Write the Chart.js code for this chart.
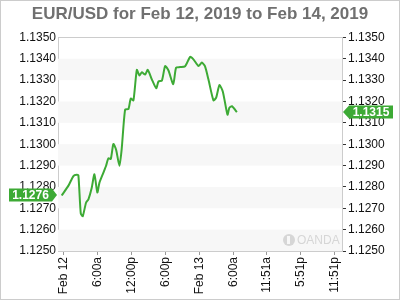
<!DOCTYPE html>
<html>
<head>
<meta charset="utf-8">
<script src="https://cdn.jsdelivr.net/npm/chart.js@4"></script>
<style>
    html, body { margin: 0; padding: 0; background: #fff; }
    #wrap { position: relative; width: 398px; height: 298px; border: 1px solid #cccccc; }
</style>
</head>
<body>
<div id="wrap"><canvas id="fxChart" width="398" height="298"></canvas></div>
<script>
// -------------------------------------------------------------------------- Data

// hours since Feb 12 00:00
const hours = [-0.3, 0.9, 1.77, 2.37, 2.65, 3.07, 3.42, 4.0, 4.42, 5.0, 5.48, 6.0, 6.36, 7.07, 7.54,
    7.95, 8.37, 8.83, 9.31, 9.9, 10.3, 10.9, 11.5, 11.9, 12.37, 12.97, 13.43, 13.85, 14.43, 14.9,
    15.6, 16.4, 16.8, 17.4, 17.97, 18.56, 19.4, 19.9, 20.6, 21.5, 22.4, 23.0, 23.85, 24.45, 25.0,
    25.6, 26.5, 26.98, 27.56, 28.16, 28.98, 29.3, 29.76, 30.64]

const prices = [1.1276, 1.12806, 1.12851, 1.12857, 1.12854, 1.12676, 1.12663, 1.12726, 1.12742,
    1.12795, 1.12859, 1.12774, 1.12819, 1.12867, 1.12899, 1.12934, 1.12931, 1.13001, 1.12974,
    1.12899, 1.12978, 1.13162, 1.13165, 1.13214, 1.13205, 1.13348, 1.13321, 1.13337, 1.13326,
    1.13348, 1.13305, 1.13262, 1.13294, 1.13298, 1.13366, 1.13345, 1.13281, 1.13358, 1.13361,
    1.13365, 1.13409, 1.13396, 1.13366, 1.13382, 1.13365, 1.13305, 1.13205, 1.13218, 1.13277,
    1.13246, 1.13138, 1.1317, 1.13178, 1.1315]

const tickHours = [0, 6, 12, 18, 24, 30, 35.85, 41.85, 47.85]
const tickLabels = ['Feb 12', '6:00a', '12:00p', '6:00p', 'Feb 13', '6:00a', '11:51a', '5:51p', '11:51p']

const green = '61, 170, 53'
const font = 'Liberation Sans, Arial, sans-serif'

// -------------------------------------------------------------------------- Plugins

// alternating horizontal bands + watermark
const bands = {
    id: 'bands',
    beforeDatasetsDraw(chart) {
        const { ctx, chartArea: a, scales: { y } } = chart
        ctx.save()
        ctx.fillStyle = '#f7f7f7'
        for (let v = 1.1340; v > 1.1249; v -= 0.002) {
            const top = y.getPixelForValue(v)
            const bot = y.getPixelForValue(v - 0.001)
            ctx.fillRect(a.left, top, a.right - a.left, bot - top)
        }
        // watermark
        ctx.fillStyle = '#d6d6d6'
        ctx.beginPath()
        ctx.arc(a.right - 53, a.bottom - 11, 6, 0, Math.PI * 2)
        ctx.fill()
        ctx.fillStyle = '#f7f7f7'
        ctx.fillRect(a.right - 55, a.bottom - 15, 3, 8)
        ctx.fillStyle = '#d6d6d6'
        ctx.font = '12px ' + font
        ctx.textAlign = 'left'
        ctx.textBaseline = 'middle'
        ctx.fillText('OANDA', a.right - 45, a.bottom - 10)
        // top border of plot
        ctx.strokeStyle = '#cccccc'
        ctx.lineWidth = 1
        ctx.beginPath()
        ctx.moveTo(a.left, Math.round(a.top) + 0.5)
        ctx.lineTo(a.right, Math.round(a.top) + 0.5)
        ctx.stroke()
        ctx.restore()
    }
}

// price flags on both axes
const flags = {
    id: 'flags',
    afterDraw(chart) {
        const { ctx, chartArea: a, scales: { y } } = chart
        const drawFlag = (value, side) => {
            const py = Math.round(y.getPixelForValue(value))
            const h = 13
            ctx.save()
            ctx.fillStyle = 'rgb(' + green + ')'
            ctx.beginPath()
            if (side === 'left') {
                const x0 = 8, x1 = a.left - 6
                ctx.moveTo(x0, py - h / 2)
                ctx.lineTo(x1, py - h / 2)
                ctx.lineTo(a.left - 1, py)
                ctx.lineTo(x1, py + h / 2)
                ctx.lineTo(x0, py + h / 2)
            } else {
                const x0 = a.right + 1, x1 = a.right + 7
                ctx.moveTo(x0, py)
                ctx.lineTo(x1, py - h / 2)
                ctx.lineTo(392, py - h / 2)
                ctx.lineTo(392, py + h / 2)
                ctx.lineTo(x1, py + h / 2)
            }
            ctx.closePath()
            ctx.fill()
            ctx.fillStyle = '#fff'
            ctx.font = 'bold 12px ' + font
            ctx.textAlign = 'center'
            ctx.textBaseline = 'middle'
            const cx = side === 'left' ? (8 + a.left - 6) / 2 : (a.right + 7 + 392) / 2
            ctx.fillText(value.toFixed(4), cx, py + 1)
            ctx.restore()
        }
        drawFlag(prices[0], 'left')
        drawFlag(prices[prices.length - 1], 'right')
    }
}

// -------------------------------------------------------------------------- Chart Config

const yAxis = (position) => ({
    type: 'linear',
    position: position,
    min: 1.125,
    max: 1.135,
    afterBuildTicks: axis => {
        axis.ticks = []
        for (let i = 0; i <= 10; i++) axis.ticks.push({ value: 1.125 + i * 0.001 })
    },
    afterFit: axis => { axis.width = 57 },
    border: { display: true, color: '#cccccc' },
    grid: { display: true, drawOnChartArea: false, drawTicks: position === 'right', tickLength: 4, color: '#333' },
    ticks: {
        color: '#111',
        font: { family: font, size: 12 },
        padding: 2,
        callback: v => v.toFixed(4)
    }
})

const config = {
    type: 'line',
    data: {
        datasets: [{
            data: hours.map((h, i) => ({ x: h, y: prices[i] })),
            borderColor: 'rgb(' + green + ')',
            borderWidth: 2,
            pointRadius: 0,
            tension: 0.2,
            fill: false
        }]
    },
    options: {
        responsive: false,
        animation: false,
        plugins: {
            legend: { display: false },
            tooltip: { enabled: false },
            title: {
                display: true,
                text: 'EUR/USD for Feb 12, 2019 to Feb 14, 2019',
                color: '#707070',
                font: { family: font, size: 17, weight: 'bold' },
                padding: { top: 3, bottom: 13 }
            }
        },
        scales: {
            x: {
                type: 'linear',
                min: -0.95,
                max: 49.2,
                afterBuildTicks: axis => {
                    axis.ticks = tickHours.map(v => ({ value: v }))
                },
                afterFit: axis => { axis.height = 48 },
                border: { display: true, color: '#cccccc' },
                grid: { display: true, drawOnChartArea: false, drawTicks: true, tickLength: 4, color: '#999' },
                ticks: {
                    color: '#111',
                    font: { family: font, size: 12 },
                    maxRotation: 90,
                    minRotation: 90,
                    padding: 2,
                    autoSkip: false,
                    callback: v => tickLabels[tickHours.indexOf(v)]
                }
            },
            y: yAxis('left'),
            y2: yAxis('right')
        }
    },
    plugins: [bands, flags]
}

// -------------------------------------------------------------------------- Render Chart
let fxChart = new Chart(document.getElementById('fxChart'), config)
</script>
</body>
</html>
